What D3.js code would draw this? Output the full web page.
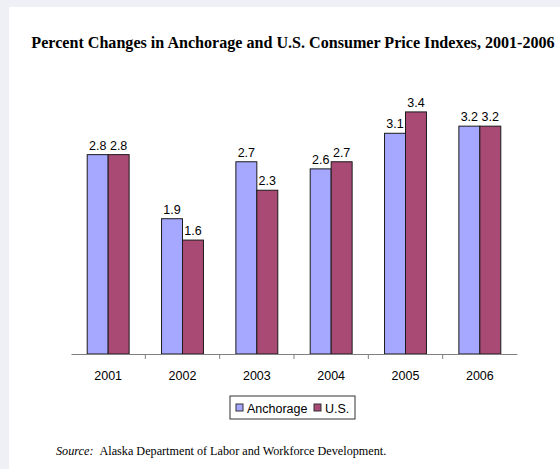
<!DOCTYPE html>
<html>
<head>
<meta charset="utf-8">
<script src="https://cdn.jsdelivr.net/npm/d3@7"></script>
<style>
  body { margin: 0; background: #eff0f5; }
  #chart { position: absolute; left: 9px; top: 7px; }
</style>
</head>
<body>
<div id="chart"></div>
<script>
// data
const years = ["2001", "2002", "2003", "2004", "2005", "2006"];
const anchorage = [2.8, 1.9, 2.7, 2.6, 3.1, 3.2];
const us = [2.8, 1.6, 2.3, 2.7, 3.4, 3.2];
const seriesNames = ["Anchorage", "U.S."];
const seriesColors = ["#a6a8ff", "#a84a74"];

const W = 560, H = 469;
const offX = 9, offY = 7; // page offset inside window

let svg = d3.select("#chart")
  .append("svg")
  .attr("width", W - offX)
  .attr("height", H - offY)
  .style("background", "#fff");

// everything drawn in window coords
const g = svg.append("g").attr("transform", "translate(" + (-offX) + "," + (-offY) + ")");

// title
g.append("text")
  .attr("x", 293)
  .attr("y", 48)
  .attr("text-anchor", "middle")
  .style("font-family", "'Liberation Serif', 'Times New Roman', serif")
  .style("font-weight", "bold")
  .style("font-size", "16.1px")
  .text("Percent Changes in Anchorage and U.S. Consumer Price Indexes, 2001-2006");

const left = 71, right = 517, base = 354;

var x = d3.scaleBand()
  .domain(years)
  .range([left, right]);

var xs = d3.scaleBand()
  .domain(seriesNames)
  .range([x.bandwidth() * 0.218, x.bandwidth() * 0.782]);

var y = d3.scaleLinear()
  .domain([0, 4])
  .range([base, base - 4 * 71.2]);

// table built from the arrays
let rows = years.map((yr, i) => ({ year: yr, values: [anchorage[i], us[i]] }));

let groups = g.selectAll(".grp")
  .data(rows)
  .enter()
  .append("g")
  .attr("class", "grp")
  .attr("transform", d => "translate(" + x(d.year) + ",0)");

let bars = groups.selectAll("rect")
  .data(d => d.values.map((v, j) => ({ name: seriesNames[j], v: v, j: j })))
  .enter();

bars.append("rect")
  .attr("x", d => xs(d.name))
  .attr("y", d => y(d.v))
  .attr("width", xs.bandwidth())
  .attr("height", d => base - y(d.v))
  .style("fill", d => seriesColors[d.j])
  .attr("stroke", "#1a1a1a")
  .attr("stroke-width", 1);

// value labels
bars.append("text")
  .attr("x", d => xs(d.name) + xs.bandwidth() / 2)
  .attr("y", d => y(d.v) - 5)
  .attr("text-anchor", "middle")
  .style("font-family", "'Liberation Sans', Arial, sans-serif")
  .style("font-size", "12.5px")
  .style("fill", "#000")
  .text(d => d.v.toFixed(1));

// x axis
let xAxis = g.append("g")
  .attr("transform", "translate(0," + base + ")")
  .call(d3.axisBottom(x).tickSize(0).tickPadding(17));

xAxis.select(".domain")
  .attr("stroke", "#808080")
  .attr("stroke-width", 1.2);

xAxis.selectAll("text")
  .style("font-family", "'Liberation Sans', Arial, sans-serif")
  .style("font-size", "12.5px")
  .style("fill", "#000");

// tick marks between categories
g.selectAll(".sep")
  .data(years.slice(1))
  .enter()
  .append("line")
  .attr("x1", d => x(d))
  .attr("x2", d => x(d))
  .attr("y1", base)
  .attr("y2", base + 5)
  .attr("stroke", "#808080");

// legend
let legend = g.append("g").attr("transform", "translate(230,396)");

legend.append("rect")
  .attr("width", 125)
  .attr("height", 23)
  .attr("fill", "#fff")
  .attr("stroke", "#333");

let legX = [6, 84];
let legItems = legend.selectAll(".legend-item")
  .data(seriesNames)
  .enter()
  .append("g")
  .attr("class", "legend-item")
  .attr("transform", (d, i) => "translate(" + legX[i] + ",8)");

legItems.append("rect")
  .attr("width", 7)
  .attr("height", 7)
  .style("fill", (d, i) => seriesColors[i])
  .attr("stroke", "#333");

legItems.append("text")
  .attr("x", 11)
  .attr("y", 9)
  .style("font-family", "'Liberation Sans', Arial, sans-serif")
  .style("font-size", "12.5px")
  .text(d => d);

// source note
let src = g.append("text")
  .attr("x", 56)
  .attr("y", 455)
  .style("font-family", "'Liberation Serif', 'Times New Roman', serif")
  .style("font-size", "12.2px");

src.append("tspan").style("font-style", "italic").text("Source:");
src.append("tspan").attr("dx", 6).text("Alaska Department of Labor and Workforce Development.");
</script>
</body>
</html>
